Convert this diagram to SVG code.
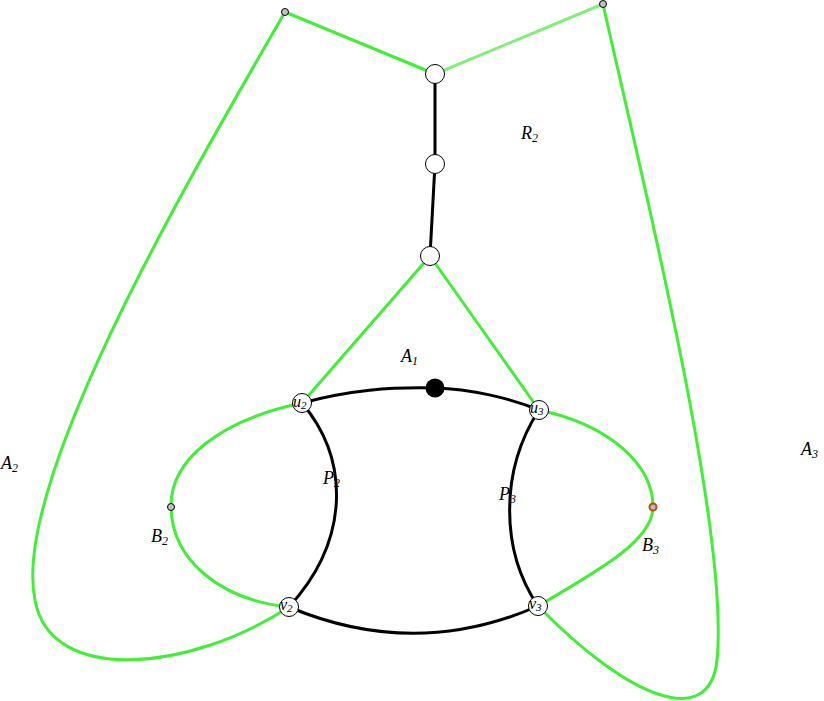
<svg xmlns="http://www.w3.org/2000/svg" width="824" height="701" viewBox="0 0 824 701">
<style>
.g{fill:none;stroke:#40f035;stroke-width:3}
.lg{fill:none;stroke:#80f07a;stroke-width:3}
.k{fill:none;stroke:#000;stroke-width:3}
.w{fill:#fff;stroke:#000;stroke-width:1}
.s{fill:#c0c0c0;stroke:#000;stroke-width:1}
.t{font-family:"Liberation Serif","DejaVu Serif",serif;font-style:italic;font-size:18px;fill:#000}
.n{font-family:"Liberation Serif","DejaVu Serif",serif;font-style:italic;font-size:16px;fill:#000}
</style>
<rect width="824" height="701" fill="#fff"/>
<g id="connectors">
<path class="g" d="M285,12 L435,74"/>
<path class="lg" d="M435,74 L603,4"/>
<path class="k" d="M435,74 L435,164 L430,256"/>
<path class="g" d="M430,256 L302,403"/>
<path class="g" d="M430,256 L539,410"/>
<path class="g" d="M285,12 C200,160 10,480 35,600 C50,685 190,672 289,607"/>
<path class="g" d="M603,4 C640,170 730,530 717,660 C710,730 630,700 538,606"/>
<path class="g" d="M302,403 C220,420 170,460 171,507 C172,560 220,600 289,607"/>
<path class="g" d="M539,410 C610,425 653,465 653,507 C653,540 600,570 538,606"/>
<path class="k" d="M302,403 C350,390 390,387 435,388 C470,389 510,398 539,410"/>
<path class="k" d="M302,403 C350,460 350,540 289,607"/>
<path class="k" d="M539,410 C500,470 500,550 538,606"/>
<path class="k" d="M289,607 Q415,660 538,606"/>
</g>
<g id="n_tl"><circle class="s" cx="285" cy="12" r="3.5"/></g>
<g id="n_tr"><circle class="s" cx="603" cy="4" r="3.5"/></g>
<g id="n_top"><circle class="w" cx="435" cy="74" r="9.5"/></g>
<g id="n_mid"><circle class="w" cx="435" cy="164" r="9.5"/></g>
<g id="n_low"><circle class="w" cx="430" cy="256" r="9.5"/></g>
<g id="n_black"><circle cx="435" cy="388" r="9.5" fill="#000"/></g>
<g id="u2"><circle class="w" cx="302" cy="403" r="9.5"/><text class="n" x="293" y="407">u<tspan font-size="11" dy="2">2</tspan></text></g>
<g id="u3"><circle class="w" cx="539" cy="410" r="9.5"/><text class="n" x="530" y="413">u<tspan font-size="11" dy="2">3</tspan></text></g>
<g id="v2"><circle class="w" cx="289" cy="607" r="9.5"/><text class="n" x="280" y="610">v<tspan font-size="11" dy="2">2</tspan></text></g>
<g id="v3"><circle class="w" cx="538" cy="606" r="9.5"/><text class="n" x="529" y="609">v<tspan font-size="11" dy="2">3</tspan></text></g>
<g id="b2"><circle class="s" cx="171" cy="507" r="3.5"/></g>
<g id="b3"><circle cx="653" cy="507" r="3.5" fill="#bbb" stroke="#c04a10" stroke-width="2"/></g>
<g id="labels">
<text class="t" x="521" y="139">R<tspan font-size="12" dy="3">2</tspan></text>
<text class="t" x="401" y="362">A<tspan font-size="12" dy="3">1</tspan></text>
<text class="t" x="1" y="469">A<tspan font-size="12" dy="3">2</tspan></text>
<text class="t" x="801" y="455">A<tspan font-size="12" dy="3">3</tspan></text>
<text class="t" x="323" y="484">P<tspan font-size="12" dy="3">2</tspan></text>
<text class="t" x="499" y="500">P<tspan font-size="12" dy="3">3</tspan></text>
<text class="t" x="151" y="542">B<tspan font-size="12" dy="3">2</tspan></text>
<text class="t" x="642" y="551">B<tspan font-size="12" dy="3">3</tspan></text>
</g>
</svg>
